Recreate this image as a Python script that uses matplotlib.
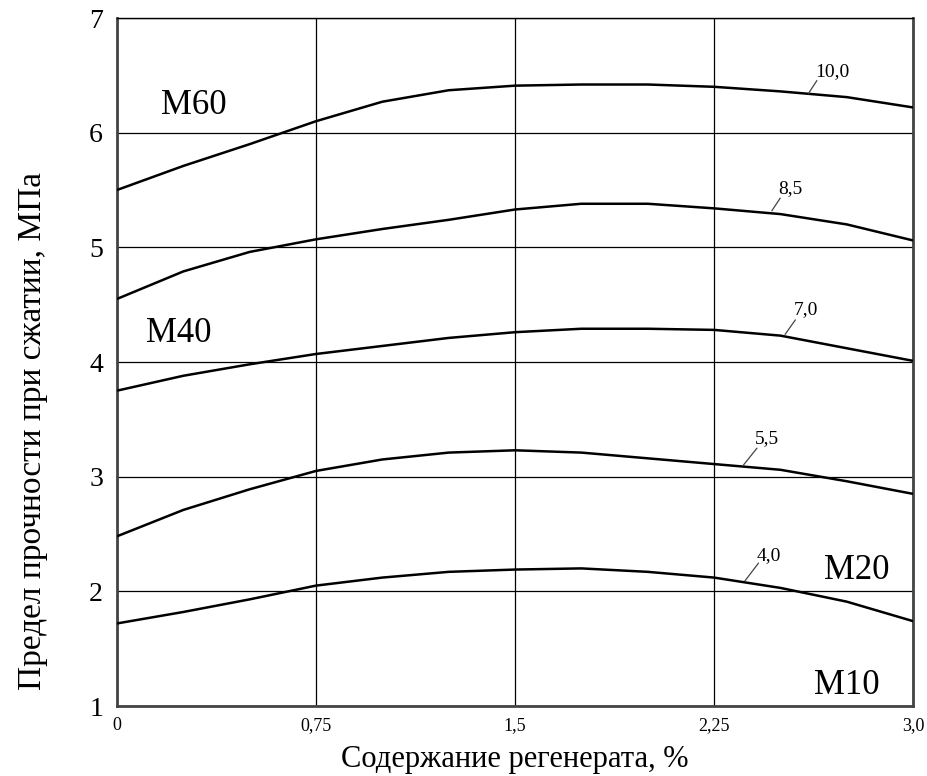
import numpy as np
import matplotlib
matplotlib.use("Agg")
import matplotlib.pyplot as plt

plt.rcParams['font.family'] = ['Liberation Serif', 'DejaVu Serif']

# содержание регенерата, %
x = [0, 0.25, 0.5, 0.75, 1.0, 1.25, 1.5, 1.75, 2.0, 2.25, 2.5, 2.75, 3.0]

# предел прочности при сжатии, МПа (по кривым)
y_10_0 = [5.50, 5.71, 5.90, 6.10, 6.27, 6.37, 6.41, 6.42, 6.42, 6.40, 6.36, 6.31, 6.22]
y_8_5 = [4.55, 4.79, 4.96, 5.07, 5.16, 5.24, 5.33, 5.38, 5.38, 5.34, 5.29, 5.20, 5.06]
y_7_0 = [3.75, 3.88, 3.98, 4.07, 4.14, 4.21, 4.26, 4.29, 4.29, 4.28, 4.23, 4.12, 4.01]
y_5_5 = [2.48, 2.71, 2.89, 3.05, 3.15, 3.21, 3.23, 3.21, 3.16, 3.11, 3.06, 2.96, 2.85]
y_4_0 = [1.72, 1.82, 1.93, 2.05, 2.12, 2.17, 2.19, 2.20, 2.17, 2.12, 2.03, 1.91, 1.74]

krivye = [y_10_0, y_8_5, y_7_0, y_5_5, y_4_0]
podpisi = ["10,0", "8,5", "7,0", "5,5", "4,0"]
# положение подписи
pos_text = [(2.694, 6.53), (2.537, 5.515), (2.597, 4.46), (2.449, 3.33), (2.455, 2.31)]
# выносные линии: верхняя и нижняя точки
vynoska_x = [(2.637, 2.606), (2.499, 2.468), (2.556, 2.518), (2.411, 2.361), (2.417, 2.367)]
vynoska_y = [(6.453, 6.343), (5.428, 5.32), (4.366, 4.242), (3.247, 3.102), (2.245, 2.093)]

marki = ["M60", "M40", "M20", "M10"]
pos_marki = [(0.288, 6.235), (0.232, 4.245), (2.788, 2.18), (2.75, 1.176)]

xticks = [0, 0.75, 1.5, 2.25, 3.0]
xtick_labels = ["0", "0,75", "1,5", "2,25", "3,0"]
yticks = [1, 2, 3, 4, 5, 6, 7]

fig = plt.figure(figsize=(9.27, 7.76), dpi=100)
ax = fig.add_axes([0.1262, 0.0902, 0.8588, 0.8866])

for yy in krivye:
    ax.plot(x, yy, color='black', lw=1.8, solid_capstyle='butt', zorder=3)

for s, (tx, ty), vx, vy in zip(podpisi, pos_text, vynoska_x, vynoska_y):
    ax.text(tx, ty, s, ha='center', va='center', fontsize=14)
    ax.plot(vx, vy, color='#444444', lw=0.9, zorder=3)

for s, (mx, my) in zip(marki, pos_marki):
    ax.text(mx, my, s, ha='center', va='center', fontsize=25)

ax.set_xlim(0, 3)
ax.set_ylim(1, 7)
ax.set_xticks(xticks)
ax.set_xticklabels(xtick_labels, fontsize=13)
ax.set_yticks(yticks)
ax.set_yticklabels([str(v) for v in yticks], fontsize=20)
ax.tick_params(axis='both', length=0)
ax.tick_params(axis='x', pad=8)
ax.tick_params(axis='y', pad=10)
ax.grid(True, color='black', lw=0.9)
ax.set_axisbelow(True)

for side in ['left', 'bottom', 'right']:
    ax.spines[side].set_linewidth(2.0)
    ax.spines[side].set_color('#444444')
ax.spines['top'].set_linewidth(1.0)
ax.spines['top'].set_color('black')

ax.set_xlabel("Содержание регенерата, %", fontsize=22, labelpad=8)
ax.set_ylabel("Предел прочности при сжатии, МПа", fontsize=24)
ax.yaxis.set_label_coords(-0.087, 0.40)

fig.savefig("out.png", dpi=100)
